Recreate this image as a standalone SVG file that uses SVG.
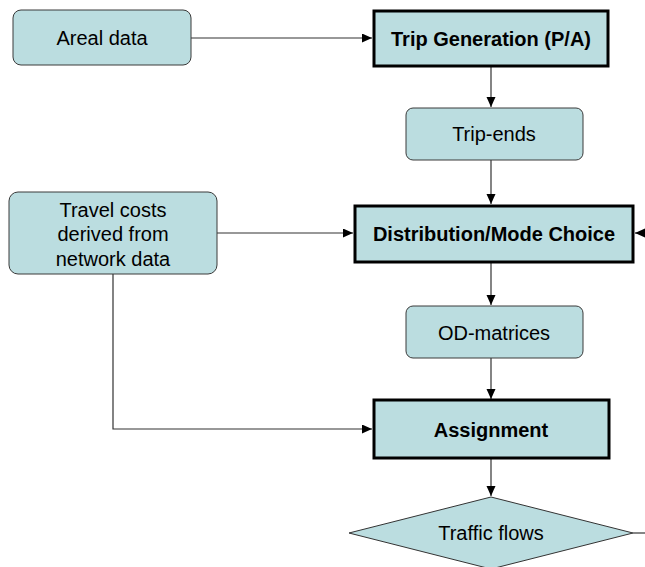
<svg xmlns="http://www.w3.org/2000/svg" width="645" height="567" viewBox="0 0 645 567">
<defs>
<marker id="ah" markerUnits="userSpaceOnUse" markerWidth="11" markerHeight="10" refX="10" refY="4.5" orient="auto">
<path d="M0,0 L10,4.5 L0,9 z" fill="#000"/>
</marker>
<style>
.soft{fill:#bbdde0;stroke:#3a3a3a;stroke-width:1}
.hard{fill:#bbdde0;stroke:#000;stroke-width:3}
.t{font-family:"Liberation Sans",Arial,sans-serif;font-size:20px;fill:#000;text-anchor:middle;dominant-baseline:central}
.b{font-weight:bold}
.c{fill:none;stroke:#333;stroke-width:1.2}
</style>
</defs>
<rect width="645" height="567" fill="#fff"/>
<g id="connectors">
<line class="c" x1="191" y1="38" x2="372" y2="38" marker-end="url(#ah)"/>
<line class="c" x1="491" y1="67" x2="491" y2="107" marker-end="url(#ah)"/>
<line class="c" x1="491" y1="160" x2="491" y2="204" marker-end="url(#ah)"/>
<line class="c" x1="217" y1="233" x2="353" y2="233" marker-end="url(#ah)"/>
<line class="c" x1="645" y1="233" x2="635" y2="233" marker-end="url(#ah)"/>
<line class="c" x1="491" y1="263" x2="491" y2="305" marker-end="url(#ah)"/>
<line class="c" x1="491" y1="358" x2="491" y2="399" marker-end="url(#ah)"/>
<polyline class="c" points="113,274 113,429 372,429" marker-end="url(#ah)"/>
<line class="c" x1="491" y1="459" x2="491" y2="496" marker-end="url(#ah)"/>
<line class="c" x1="633" y1="533" x2="645" y2="533"/>
</g>
<g id="areal">
<rect class="soft" x="13" y="10" width="178" height="55" rx="8"/>
<text class="t" x="102" y="38">Areal data</text>
</g>
<g id="tripgen">
<rect class="hard" x="374" y="11" width="234" height="55"/>
<text class="t b" x="491" y="39">Trip Generation (P/A)</text>
</g>
<g id="tripends">
<rect class="soft" x="406" y="108" width="177" height="52" rx="7"/>
<text class="t" x="494" y="134">Trip-ends</text>
</g>
<g id="travelcosts">
<rect class="soft" x="9" y="192" width="208" height="82" rx="9"/>
<text class="t" x="113" y="210">Travel costs</text>
<text class="t" x="113" y="234">derived from</text>
<text class="t" x="113" y="259">network data</text>
</g>
<g id="distribution">
<rect class="hard" x="355" y="206" width="278" height="56"/>
<text class="t b" x="494" y="234">Distribution/Mode Choice</text>
</g>
<g id="odmatrices">
<rect class="soft" x="406" y="306" width="177" height="52" rx="7"/>
<text class="t" x="494" y="333">OD-matrices</text>
</g>
<g id="assignment">
<rect class="hard" x="374" y="400" width="235" height="58"/>
<text class="t b" x="491" y="430">Assignment</text>
</g>
<g id="trafficflows">
<polygon points="491,497 633,533 491,569 349,533" fill="#bbdde0" stroke="#333" stroke-width="1"/>
<text class="t" x="491" y="533">Traffic flows</text>
</g>
</svg>
